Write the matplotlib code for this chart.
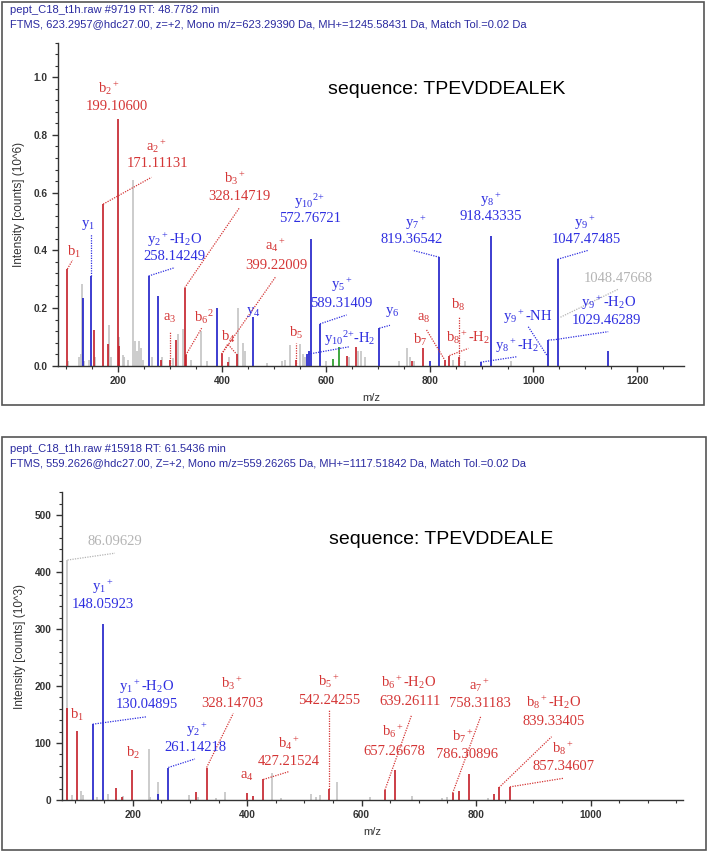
import matplotlib
matplotlib.use("Agg")
import matplotlib.pyplot as plt
from matplotlib.patches import Rectangle
from matplotlib.ticker import MultipleLocator, AutoMinorLocator, FormatStrFormatter

plt.rcParams['font.family'] = ['Liberation Sans', 'DejaVu Sans']
plt.rcParams['mathtext.fontset'] = 'custom'
plt.rcParams['mathtext.rm'] = 'Liberation Serif'
plt.rcParams['mathtext.it'] = 'Liberation Serif:italic'
plt.rcParams['mathtext.bf'] = 'Liberation Serif:bold'
plt.rcParams['mathtext.default'] = 'regular'

W, H = 709, 857

# ---- spectrum 1 (TPEVDDEALEK), intensity in 10^6 counts ----
top_gray_mz = [103, 125, 128, 129.5, 135, 144, 156, 182.7, 186, 201, 209.6, 212, 218, 227.7, 232,
               236, 240.5, 243.7, 248, 266, 285, 305, 315.7, 325.3, 340.6, 359, 372, 414, 431.3,
               440.3, 445, 486, 514.8, 521, 530.8, 550, 556, 560, 600, 645, 661, 667, 676, 740,
               755.7, 762, 770, 845, 868, 957]
top_gray_int = [0.015, 0.03, 0.04, 0.283, 0.015, 0.02, 0.03, 0.14, 0.03, 0.10, 0.037, 0.03, 0.02, 0.644,
                0.085, 0.05, 0.086, 0.062, 0.02, 0.03, 0.03, 0.025, 0.11, 0.126, 0.02, 0.12, 0.015,
                0.03, 0.2, 0.077, 0.05, 0.01, 0.015, 0.02, 0.072, 0.075, 0.04, 0.03, 0.015, 0.03,
                0.05, 0.05, 0.03, 0.015, 0.06, 0.03, 0.015, 0.02, 0.015, 0.015]
top_red_mz = [102, 153, 171, 180.7, 199.1, 201, 281.5, 299.6, 310.5, 328.1, 330.3, 399.2, 410.7,
              428, 542.4, 640, 658, 766.5, 786.5, 829, 838, 856.5]
top_red_int = [0.335, 0.124, 0.56, 0.075, 0.855, 0.07, 0.02, 0.02, 0.088, 0.27, 0.037, 0.04, 0.012,
               0.04, 0.02, 0.035, 0.065, 0.015, 0.061, 0.02, 0.035, 0.03]
top_blue_mz = [131.4, 147.4, 258.5, 277, 389.5, 460, 563, 567.5, 571.3, 588.6, 703, 800.6, 818.5,
               898, 917.5, 1028.5, 1046.6, 1144]
top_blue_int = [0.236, 0.31, 0.311, 0.243, 0.2, 0.168, 0.04, 0.05, 0.44, 0.145, 0.13, 0.018, 0.376,
                0.012, 0.45, 0.089, 0.369, 0.052]
top_green_mz = [613, 624.6]
top_green_int = [0.023, 0.065]

# ---- spectrum 2 (TPEVDDEALE), intensity in 10^3 counts ----
bot_gray_mz = [86.1, 93.5, 109, 113.7, 137, 157.4, 183.6, 228.5, 231, 243.7, 298.3, 314.6, 345,
               361.2, 442.8, 460, 510.9, 520, 528, 557.5, 614, 688.4, 740, 750, 820]
bot_gray_int = [421, 9, 16, 9, 6, 11, 7, 89, 6, 32, 8, 6, 4, 14, 47, 4, 11, 6, 8, 32, 6, 7, 4, 5, 4]
bot_red_mz = [84.7, 102.2, 170.8, 182, 199.3, 310.6, 329.2, 400.2, 409.6, 428.2, 542.9, 640.7,
              658.2, 759, 770, 787.4, 831, 840.4, 859]
bot_red_int = [161, 121, 21.6, 5, 52.6, 14, 57, 12, 7, 36, 18.7, 17.5, 52.6, 12, 16, 45, 10, 23, 23]
bot_blue_mz = [130.1, 148.7, 244.8, 262.2]
bot_blue_int = [133, 309, 10, 57]

RED = '#c41e28'
RED_T = '#d43535'
BLUE = '#1c1cc8'
BLUE_T = '#2e2ee0'
GRAY = '#c4c4c4'
GRAY_T = '#b4b4b4'
GREEN = '#1f9a1f'

# labels: (name, name_x, name_y, number, num_x, num_y, colour, leader points)
top_labels = [
    ('b$_1$', 114.6, 0.395, None, 0, 0, RED_T, [(102, 0.335), (112, 0.366)]),
    ('y$_1$', 142, 0.488, None, 0, 0, BLUE_T, [(147.4, 0.31), (147.4, 0.455)]),
    ('b$_2$$^+$', 181.5, 0.96, '199.10600', 197, 0.897, RED_T, None),
    ('a$_2$$^+$', 274, 0.759, '171.11131', 276, 0.70, RED_T, [(171, 0.56), (264, 0.653)]),
    ('y$_2$$^+$-H$_2$O', 309, 0.436, '258.14249', 309, 0.378, BLUE_T, [(258.5, 0.311), (309, 0.34)]),
    ('b$_3$$^+$', 425, 0.65, '328.14719', 433, 0.586, RED_T, [(328.1, 0.27), (433, 0.546)]),
    ('y$_{10}$$^{2{+}}$', 569, 0.569, '572.76721', 569, 0.511, BLUE_T, None),
    ('a$_4$$^+$', 502, 0.418, '399.22009', 504, 0.349, RED_T, [(399.2, 0.04), (504, 0.31)]),
    ('a$_3$', 300, 0.164, None, 0, 0, RED_T, [(299.6, 0), (299.6, 0.12)]),
    ('b$_6$$^2$', 365, 0.17, None, 0, 0, RED_T, [(330.3, 0.037), (360.7, 0.13)]),
    ('b$_4$', 412, 0.10, None, 0, 0, RED_T, [(399.2, 0.04), (411, 0.075), (428, 0.04)]),
    ('y$_4$', 460, 0.187, None, 0, 0, BLUE_T, None),
    ('b$_5$', 542.4, 0.112, None, 0, 0, RED_T, [(542.4, 0), (542.4, 0.08)]),
    ('y$_5$$^+$', 630.4, 0.28, '589.31409', 630.4, 0.216, BLUE_T, [(588.6, 0.145), (640, 0.176)]),
    ('y$_{10}$$^{2{+}}$-H$_2$', 646.5, 0.095, None, 0, 0, BLUE_T, [(566, 0.04), (646.5, 0.066)]),
    ('y$_6$', 728.7, 0.187, None, 0, 0, BLUE_T, [(703, 0.13), (723.5, 0.14)]),
    ('y$_7$$^+$', 773.6, 0.494, '819.36542', 765.3, 0.436, BLUE_T, [(818.5, 0.376), (767, 0.40)]),
    ('a$_8$', 787.7, 0.164, None, 0, 0, RED_T, [(794, 0.124), (829, 0.02)]),
    ('b$_7$', 781, 0.089, None, 0, 0, RED_T, None),
    ('b$_8$', 855, 0.21, None, 0, 0, RED_T, [(856.5, 0), (856.5, 0.17)]),
    ('b$_8$$^+$-H$_2$', 874.5, 0.098, None, 0, 0, RED_T, [(838, 0.035), (874.6, 0.06)]),
    ('y$_8$$^+$', 917.5, 0.574, '918.43335', 917.5, 0.516, BLUE_T, None),
    ('y$_8$$^+$-H$_2$', 967.6, 0.068, None, 0, 0, BLUE_T, [(898, 0.012), (967.6, 0.031)]),
    ('y$_9$$^+$-NH', 990, 0.17, None, 0, 0, BLUE_T, [(990, 0.135), (1026.6, 0.034)]),
    ('y$_9$$^+$', 1099, 0.494, '1047.47485', 1102.5, 0.436, BLUE_T, [(1046.6, 0.369), (1105.6, 0.40)]),
    (None, 0, 0, '1048.47668', 1163.4, 0.303, GRAY_T, [(1052, 0.168), (1163, 0.265)]),
    ('y$_9$$^+$-H$_2$O', 1144, 0.216, '1029.46289', 1141, 0.156, BLUE_T,
     [(1028.5, 0.089), (1040, 0.09), (1144, 0.118)]),
]

bot_labels = [
    (None, 0, 0, '86.09629', 169, 453, GRAY_T, [(86.1, 421), (169, 433)]),
    ('y$_1$$^+$', 147.6, 374, '148.05923', 147.6, 343, BLUE_T, None),
    ('b$_1$', 102, 149, None, 0, 0, RED_T, None),
    ('y$_1$$^+$-H$_2$O', 224.5, 199, '130.04895', 224.5, 167, BLUE_T, [(130.1, 133), (224.5, 146)]),
    ('b$_2$', 200, 82, None, 0, 0, RED_T, None),
    ('y$_2$$^+$', 311.8, 123, '261.14218', 308.8, 92.5, BLUE_T, [(262.2, 57), (308.8, 72)]),
    ('b$_3$$^+$', 373, 205, '328.14703', 374.7, 170, RED_T, [(329.2, 57), (375.8, 152)]),
    ('a$_4$', 400, 41, None, 0, 0, RED_T, None),
    ('b$_4$$^+$', 473.5, 99.4, '427.21524', 473.5, 67, RED_T, [(428.2, 36), (473.5, 50)]),
    ('b$_5$$^+$', 542.9, 207.5, '542.24255', 542.9, 175, RED_T, [(542.9, 18.7), (542.9, 158)]),
    ('b$_6$$^+$-H$_2$O', 681.4, 205.8, '639.26111', 684.4, 172.5, RED_T, [(640.7, 17.5), (687.3, 149)]),
    ('b$_6$$^+$', 655.2, 120, '657.26678', 656.4, 85, RED_T, None),
    ('a$_7$$^+$', 806.6, 201.8, '758.31183', 806.6, 169.6, RED_T, [(759, 12), (807.9, 146)]),
    ('b$_7$$^+$', 777.5, 111, '786.30896', 783.4, 79, RED_T, None),
    ('b$_8$$^+$-H$_2$O', 934.7, 170.7, '839.33405', 934.7, 137.4, RED_T, [(839.8, 21.6), (931.9, 111)]),
    ('b$_8$$^+$', 952, 90.7, '857.34607', 952, 58.4, RED_T, [(859, 23), (952, 38)]),
]

fig = plt.figure(figsize=(W / 100, H / 100), dpi=100)


def px_box(left, top, right, bottom):
    return [left / W, 1 - bottom / H, (right - left) / W, (bottom - top) / H]


def draw_panel(ax, series, labels, xlim, ylim, ymajor, yfmt, ylabel, seq, seq_xy):
    for mz, inten, col in series:
        ax.vlines(mz, 0, inten, colors=col, lw=1.2)
    for name, nx, ny, num, mx, my, col, lead in labels:
        if lead is not None:
            xs = [p[0] for p in lead]
            ys = [p[1] for p in lead]
            ax.plot(xs, ys, ls=(0, (1, 1)), color=col, lw=0.9)
        if name is not None:
            ax.text(nx, ny, name, color=col, fontsize=10.5, family='Liberation Serif',
                    ha='center', va='center')
        if num is not None:
            ax.text(mx, my, num, color=col, fontsize=10.5, family='Liberation Serif',
                    ha='center', va='center')
    ax.set_xlim(*xlim)
    ax.set_ylim(*ylim)
    for s in ['top', 'right']:
        ax.spines[s].set_visible(False)
    for s in ['left', 'bottom']:
        ax.spines[s].set_color('#333333')
        ax.spines[s].set_linewidth(1.0)
    ax.xaxis.set_major_locator(MultipleLocator(200))
    ax.xaxis.set_minor_locator(MultipleLocator(50))
    ax.yaxis.set_major_locator(MultipleLocator(ymajor))
    ax.yaxis.set_minor_locator(AutoMinorLocator(5))
    ax.yaxis.set_major_formatter(FormatStrFormatter(yfmt))
    ax.tick_params(which='major', length=4, width=1, color='#333333', labelsize=7.3,
                   labelcolor='#333333')
    ax.tick_params(which='minor', length=2.5, width=0.8, color='#333333')
    for t in ax.get_xticklabels() + ax.get_yticklabels():
        t.set_fontweight('bold')
    ax.set_xlabel('m/z', fontsize=8, color='#333333', labelpad=5)
    ax.set_ylabel(ylabel, fontsize=8.5, color='#333333', labelpad=6)
    ax.text(seq_xy[0], seq_xy[1], seq, fontsize=14, color='black', ha='center', va='center',
            transform=fig.transFigure)


# panel frames
fig.patches.append(Rectangle((2 / W, 1 - 405 / H), 702 / W, 403 / H, transform=fig.transFigure,
                             fill=False, edgecolor='#555555', lw=1.2))
fig.patches.append(Rectangle((2 / W, 1 - 850 / H), 704 / W, 413 / H, transform=fig.transFigure,
                             fill=False, edgecolor='#555555', lw=1.2))

hdr = '#2a2aa0'
fig.text(10 / W, 1 - 10 / H, 'pept_C18_t1h.raw #9719 RT: 48.7782 min', fontsize=8, color=hdr, va='center')
fig.text(10 / W, 1 - 24 / H, 'FTMS, 623.2957@hdc27.00, z=+2, Mono m/z=623.29390 Da, MH+=1245.58431 Da, '
         'Match Tol.=0.02 Da', fontsize=8, color=hdr, va='center')
fig.text(10 / W, 1 - 449 / H, 'pept_C18_t1h.raw #15918 RT: 61.5436 min', fontsize=8, color=hdr, va='center')
fig.text(10 / W, 1 - 463 / H, 'FTMS, 559.2626@hdc27.00, Z=+2, Mono m/z=559.26265 Da, MH+=1117.51842 Da, '
         'Match Tol.=0.02 Da', fontsize=8, color=hdr, va='center')

ax1 = fig.add_axes(px_box(58, 42.6, 684, 365.7))
draw_panel(ax1,
           [(top_gray_mz, top_gray_int, GRAY), (top_green_mz, top_green_int, GREEN),
            (top_red_mz, top_red_int, RED), (top_blue_mz, top_blue_int, BLUE)],
           top_labels, (84, 1290), (0, 1.12), 0.2, '%.1f', 'Intensity [counts] (10^6)',
           'sequence: TPEVDDEALEK', (447 / W, 1 - 89 / H))

ax2 = fig.add_axes(px_box(61.7, 492.2, 683.3, 800))
draw_panel(ax2,
           [(bot_gray_mz, bot_gray_int, GRAY), (bot_red_mz, bot_red_int, RED),
            (bot_blue_mz, bot_blue_int, BLUE)],
           bot_labels, (76, 1162), (0, 540), 100, '%d', 'Intensity [counts] (10^3)',
           'sequence: TPEVDDEALE', (441 / W, 1 - 540 / H))

fig.savefig('out.png', dpi=100, facecolor='white')
